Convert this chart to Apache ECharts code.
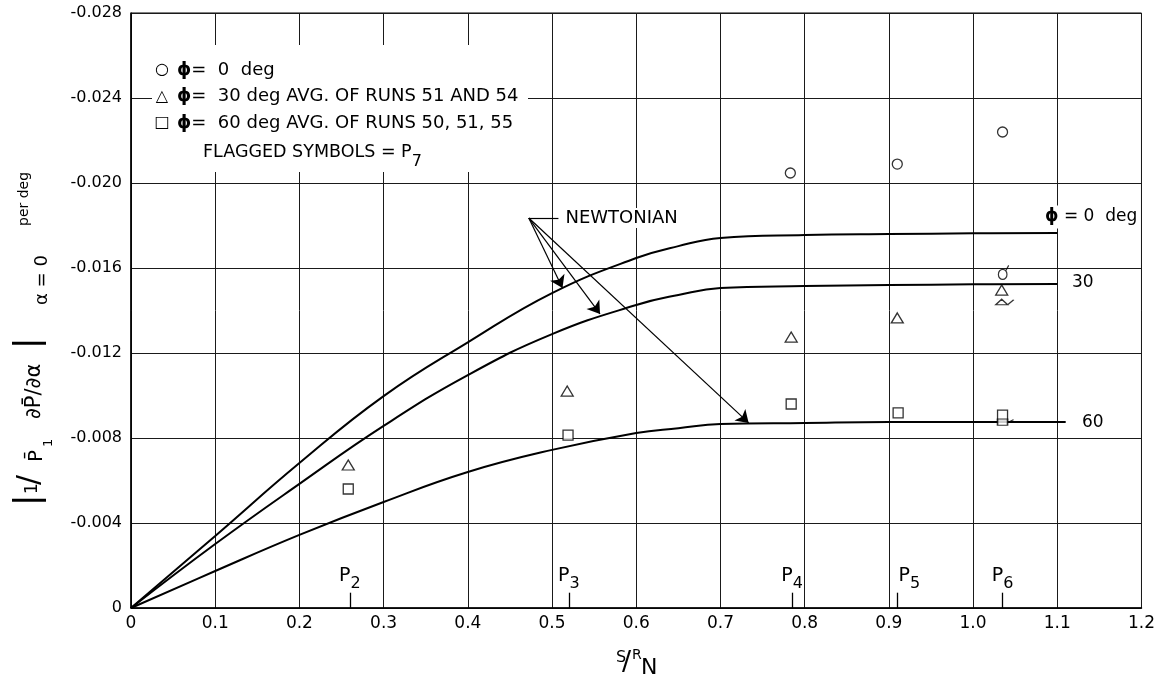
<!DOCTYPE html>
<html>
<head>
<meta charset="utf-8">
<script src="https://cdn.jsdelivr.net/npm/echarts@6/dist/echarts.min.js"></script>
<style>html,body{margin:0;padding:0;background:#fff}#c{width:1158px;height:679px}</style>
</head>
<body>
<div id="c"></div>
<script>
// ---- data ----
const sNewt = [0, 0.1, 0.2, 0.3, 0.4, 0.5, 0.6, 0.65, 0.7, 0.8, 0.9, 1.0, 1.1];
const newtPhi0 = [0, -0.00339, -0.00682, -0.00997, -0.0125, -0.01482, -0.01647, -0.01703, -0.01741, -0.01755, -0.0176, -0.01763, -0.01765];
const newtPhi30 = [0, -0.00301, -0.00584, -0.00857, -0.01096, -0.01289, -0.01426, -0.01473, -0.01506, -0.01515, -0.0152, -0.01523, -0.01525];
const sNewt60 = [0, 0.1, 0.2, 0.3, 0.4, 0.5, 0.6, 0.65, 0.7, 0.8, 0.9, 1.0, 1.11];
const newtPhi60 = [0, -0.00174, -0.00344, -0.00499, -0.0064, -0.00744, -0.00824, -0.00846, -0.00866, -0.00871, -0.00875, -0.00875, -0.00875];

const circS = [0.783, 0.910, 1.035];
const circV = [-0.02047, -0.02089, -0.0224];
const triS = [0.258, 0.518, 0.784, 0.910, 1.034];
const triV = [-0.00673, -0.01021, -0.01275, -0.01365, -0.01496];
const sqS = [0.258, 0.519, 0.784, 0.911, 1.035];
const sqV = [-0.0056, -0.00814, -0.0096, -0.00918, -0.00908];
const flagCircle = [1.035, -0.0157];
const flagTri = [1.034, -0.0144];
const flagSq = [1.035, -0.00875];

const pNames = ['2', '3', '4', '5', '6'];
const pS = [0.26, 0.52, 0.785, 0.91, 1.035];

const newtFrom = [0.4724, -0.01835];
const newtLeaderEnd = [0.5076, -0.01835];
const newtTargets = [[0.5124, -0.01506], [0.557, -0.01384], [0.7335, -0.00871]];

const legendLines = ['=  0  deg', '=  30 deg AVG. OF RUNS 51 AND 54', '=  60 deg AVG. OF RUNS 50, 51, 55'];
const legendGlyphs = ['○', '△', '□'];

// ---- chart ----
const FF = 'DejaVu Sans';
const zip = (a, b) => a.map((v, i) => [v, b[i]]);
const chart = echarts.init(document.getElementById('c'), null, {renderer: 'canvas'});

const lineBase = {
  type: 'line', showSymbol: false, symbol: 'none', smooth: 0.45,
  lineStyle: {color: '#000', width: 2}, silent: true, animation: false, z: 3
};
const markerStyle = {color: '#fff', borderColor: '#000', borderWidth: 1.3};

const legendGraphics = [];
legendLines.forEach((t, i) => {
  const y = 70 + i * 26.5;
  legendGraphics.push({type: 'text', x: 162, y: y, z: 20,
    style: {text: legendGlyphs[i], fontFamily: FF, fontSize: 16, fill: '#000', align: 'center', verticalAlign: 'middle'}});
  legendGraphics.push({type: 'text', x: 177, y: y, z: 20,
    style: {text: '{b|ϕ}' + t, fontFamily: FF, fontSize: 18, fill: '#000', verticalAlign: 'middle',
      rich: {b: {fontFamily: FF, fontSize: 18, fontWeight: 'bold'}}}});
});

const yLabelParts = [
  {t: '|', lx: -3, ly: -18, fs: 34},
  {t: '1', lx: 9, ly: -14, fs: 17},
  {t: '/', lx: 18, ly: -17, fs: 30},
  {t: 'P̄', lx: 41, ly: -10, fs: 20},
  {t: '1', lx: 56, ly: 2, fs: 13},
  {t: '∂P̄/∂α', lx: 84, ly: -12, fs: 21},
  {t: '|', lx: 154, ly: -18, fs: 34},
  {t: 'α = 0', lx: 198, ly: -5, fs: 18},
  {t: 'per deg', lx: 277, ly: -23, fs: 14}
];

const option = {
  animation: false,
  backgroundColor: '#fff',
  grid: {left: 131, top: 13, width: 1021, height: 595, show: true, borderColor: '#000', borderWidth: 1, backgroundColor: 'transparent'},
  xAxis: {
    type: 'value', min: 0, max: 1.2, interval: 0.1,
    axisLine: {show: true, lineStyle: {color: '#000', width: 1.5}},
    axisTick: {show: false},
    splitLine: {show: true, lineStyle: {color: '#1a1a1a', width: 1}},
    axisLabel: {color: '#000', fontFamily: FF, fontSize: 17, margin: 7,
      formatter: v => (Math.abs(v) < 1e-9 ? '0' : v.toFixed(1))}
  },
  yAxis: {
    type: 'value', min: -0.028, max: 0, interval: 0.004, inverse: true,
    axisLine: {show: true, lineStyle: {color: '#000', width: 1.5}},
    axisTick: {show: false},
    splitLine: {show: true, lineStyle: {color: '#1a1a1a', width: 1}},
    axisLabel: {color: '#000', fontFamily: FF, fontSize: 16, margin: 9,
      formatter: v => (Math.abs(v) < 1e-9 ? '0' : v.toFixed(3))}
  },
  series: [
    Object.assign({}, lineBase, {
      name: 'phi0', data: zip(sNewt, newtPhi0),
      markLine: {
        silent: true, animation: false, symbol: ['none', 'arrow'], symbolSize: 12,
        lineStyle: {type: 'solid', color: '#000', width: 1.2},
        label: {show: false},
        data: [
          [{coord: newtFrom, symbol: 'none'},
           {coord: newtLeaderEnd, symbol: 'none',
            label: {show: true, position: 'end', distance: 5, formatter: 'NEWTONIAN', color: '#000',
              fontFamily: FF, fontSize: 18, backgroundColor: '#fff', padding: [1, 2]}}]
        ].concat(newtTargets.map(t => [{coord: newtFrom, symbol: 'none'}, {coord: t, symbol: 'arrow'}]))
      }
    }),
    Object.assign({}, lineBase, {
      name: 'phi30', data: zip(sNewt, newtPhi30),
      markLine: {
        silent: true, animation: false, symbol: ['none', 'none'],
        lineStyle: {type: 'solid', color: '#000', width: 1.3},
        label: {show: true, position: 'end', distance: 1, color: '#000', fontFamily: FF,
          rich: {p: {fontFamily: FF, fontSize: 19, color: '#000'}, s: {fontFamily: FF, fontSize: 16, color: '#000', padding: [16, 0, 0, 0]}}},
        data: pS.map((s, i) => [
          {coord: [s, 0]},
          {coord: [s, -0.00072], label: {formatter: '{p|P}{s|' + pNames[i] + '}', offset: [pNames[i] === '5' ? 12 : 0, 0]}}
        ])
      }
    }),
    Object.assign({}, lineBase, {name: 'phi60', data: zip(sNewt60, newtPhi60)}),
    {type: 'scatter', name: 'c', data: zip(circS, circV), symbol: 'circle', symbolSize: 10, itemStyle: markerStyle, z: 5, silent: true},
    {type: 'scatter', name: 't', data: zip(triS, triV), symbol: 'triangle', symbolSize: [12, 10], itemStyle: markerStyle, z: 5, silent: true},
    {type: 'scatter', name: 's', data: zip(sqS, sqV), symbol: 'rect', symbolSize: 10, itemStyle: markerStyle, z: 5, silent: true},
    {type: 'scatter', name: 'cf', data: [flagCircle], symbol: 'path://M0,5 A5,5 0 1,1 10,5 A5,5 0 1,1 0,5 Z M8.5,1.5 L12,-4',
      symbolSize: [12, 14], symbolKeepAspect: true, symbolOffset: [1, -2], itemStyle: markerStyle, z: 5, silent: true},
    {type: 'scatter', name: 'tf', data: [flagTri], symbol: 'path://M6,0 L12,10 L0,10 Z M12,10 L18,1',
      symbolSize: [18, 10], symbolKeepAspect: true, symbolOffset: [3, 0], itemStyle: markerStyle, z: 5, silent: true},
    {type: 'scatter', name: 'sf', data: [flagSq], symbol: 'path://M0,0 L10,0 L10,10 L0,10 Z M10,6 L16,1',
      symbolSize: [16, 10], symbolKeepAspect: true, symbolOffset: [3, 0], itemStyle: markerStyle, z: 5, silent: true}
  ],
  graphic: [
    {type: 'rect', shape: {x: 152, y: 45, width: 376, height: 127}, style: {fill: '#fff'}, z: 1, silent: true},
    ...legendGraphics,
    {type: 'text', x: 203, y: 152, z: 20,
      style: {text: '{t|FLAGGED SYMBOLS = P}{s|7}', fill: '#000', verticalAlign: 'middle',
        rich: {t: {fontFamily: FF, fontSize: 17.5, color: '#000'}, s: {fontFamily: FF, fontSize: 16, color: '#000', padding: [20, 0, 0, 0]}}}},
    {type: 'text', x: 1043, y: 217, z: 20,
      style: {text: '{b|ϕ} = 0  deg', fill: '#000', fontFamily: FF, fontSize: 17, verticalAlign: 'middle',
        backgroundColor: '#fff', padding: [3, 2],
        rich: {b: {fontFamily: FF, fontSize: 17, fontWeight: 'bold'}}}},
    {type: 'text', x: 1072, y: 283, z: 20, style: {text: '30', fill: '#000', fontFamily: FF, fontSize: 17, verticalAlign: 'middle'}},
    {type: 'text', x: 1082, y: 423, z: 20, style: {text: '60', fill: '#000', fontFamily: FF, fontSize: 17, verticalAlign: 'middle'}},
    // x-axis title S/R_N
    {type: 'text', x: 616, y: 658, z: 20, style: {text: 'S', fill: '#000', fontFamily: FF, fontSize: 16, verticalAlign: 'middle'}},
    {type: 'text', x: 622, y: 663, z: 20, style: {text: '/', fill: '#000', fontFamily: FF, fontSize: 27, verticalAlign: 'middle'}},
    {type: 'text', x: 632, y: 655, z: 20, style: {text: 'R', fill: '#000', fontFamily: FF, fontSize: 14, verticalAlign: 'middle'}},
    {type: 'text', x: 641, y: 668, z: 20, style: {text: 'N', fill: '#000', fontFamily: FF, fontSize: 22, verticalAlign: 'middle'}},
    // y-axis title
    {type: 'group', x: 47, y: 503, rotation: Math.PI / 2, z: 20,
      children: yLabelParts.map(p => ({type: 'text', x: p.lx, y: p.ly, z: 20,
        style: {text: p.t, fill: '#000', fontFamily: FF, fontSize: p.fs, verticalAlign: 'middle', align: 'left'}}))}
  ]
};
chart.setOption(option);
</script>
</body>
</html>
